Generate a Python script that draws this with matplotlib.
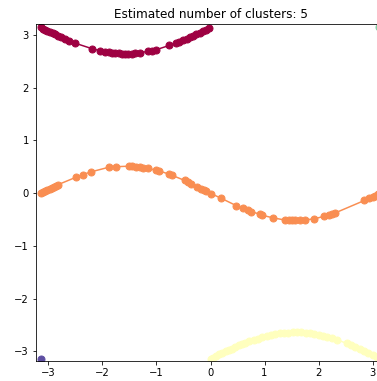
import matplotlib
matplotlib.use("Agg")
import matplotlib.pyplot as plt
import numpy as np

# cluster 0: top arc (dark red)
red_x = [-3.14, -3.10, -3.06, -3.02, -2.97, -2.92, -2.87, -2.82, -2.76, -2.70, -2.62, -2.50,
         -2.20, -2.05, -1.95, -1.88, -1.82, -1.76, -1.70, -1.64, -1.58, -1.52, -1.46, -1.40,
         -1.30, -1.15, -1.08, -1.00, -0.76, -0.64, -0.58, -0.50, -0.44, -0.38, -0.32, -0.26,
         -0.20, -0.14, -0.08, -0.02]
red_y = [3.14, 3.12, 3.10, 3.08, 3.06, 3.03, 3.01, 2.98, 2.96, 2.93, 2.89, 2.84,
         2.74, 2.70, 2.68, 2.67, 2.66, 2.65, 2.65, 2.64, 2.64, 2.64, 2.64, 2.65,
         2.66, 2.69, 2.70, 2.72, 2.80, 2.84, 2.87, 2.90, 2.93, 2.96, 2.98, 3.01,
         3.04, 3.07, 3.10, 3.13]

# cluster 1: middle wave (orange)
orange_x = [-3.14, -3.10, -3.06, -3.02, -2.98, -2.94, -2.90, -2.86, -2.82, -2.49, -2.36, -2.22,
            -1.88, -1.75, -1.50, -1.45, -1.38, -1.30, -1.25, -1.16, -1.00, -0.95, -0.77, -0.72,
            -0.48, -0.42, -0.36, -0.25, -0.17, -0.12, -0.08, 0.01, 0.20, 0.48, 0.60, 0.69,
            0.75, 0.91, 0.95, 1.16, 1.37, 1.46, 1.50, 1.56, 1.65, 1.74, 1.91, 2.11,
            2.20, 2.25, 2.30, 2.85, 2.94, 3.00, 3.04, 3.10, 3.14]
orange_y = [0.00, 0.02, 0.04, 0.06, 0.08, 0.10, 0.12, 0.14, 0.16, 0.30, 0.35, 0.40,
            0.49, 0.50, 0.51, 0.51, 0.50, 0.49, 0.48, 0.47, 0.43, 0.42, 0.36, 0.34,
            0.24, 0.21, 0.18, 0.12, 0.08, 0.06, 0.04, -0.01, -0.10, -0.24, -0.29, -0.33,
            -0.35, -0.40, -0.42, -0.47, -0.51, -0.52, -0.52, -0.52, -0.52, -0.51, -0.49, -0.44,
            -0.41, -0.40, -0.38, -0.14, -0.10, -0.07, -0.05, -0.02, 0.00]

# cluster 2: bottom arc (pale yellow)
yellow_x = [0.00, 0.05, 0.10, 0.16, 0.22, 0.28, 0.34, 0.40, 0.46, 0.52, 0.58, 0.64,
            0.72, 0.80, 0.88, 0.96, 1.04, 1.12, 1.20, 1.28, 1.36, 1.44, 1.52, 1.60,
            1.68, 1.76, 1.84, 1.92, 2.00, 2.08, 2.16, 2.24, 2.34, 2.52, 2.60, 2.68,
            2.76, 2.84, 2.92, 3.00, 3.08]
yellow_y = [-3.14, -3.12, -3.09, -3.06, -3.03, -3.00, -2.97, -2.95, -2.92, -2.89, -2.87, -2.84,
            -2.81, -2.78, -2.76, -2.73, -2.71, -2.69, -2.68, -2.66, -2.65, -2.65, -2.64, -2.64,
            -2.64, -2.65, -2.66, -2.67, -2.69, -2.71, -2.73, -2.75, -2.78, -2.85, -2.88, -2.92,
            -2.96, -2.99, -3.03, -3.07, -3.11]

# clusters 3 and 4: single corner points
teal_x = [3.12]
teal_y = [3.14]
purple_x = [-3.14]
purple_y = [-3.14]

clusters = [(red_x, red_y), (orange_x, orange_y), (yellow_x, yellow_y),
            (teal_x, teal_y), (purple_x, purple_y)]
n_clusters = len(clusters)
colors = plt.cm.Spectral(np.linspace(0, 1, n_clusters))

fig = plt.figure(figsize=(377 / 72, 381 / 72), dpi=72)
ax = fig.add_axes([36 / 377, 19.7 / 381, 349 / 377, 337 / 381])

for (xs, ys), col in zip(clusters, colors):
    ax.plot(xs, ys, "o-", color=col, markersize=7, linewidth=1.5)

ax.set_xlim(-3.23, 3.23)
ax.set_ylim(-3.19, 3.2)
ax.set_xticks([-3, -2, -1, 0, 1, 2, 3])
ax.set_yticks([-3, -2, -1, 0, 1, 2, 3])
ax.tick_params(labelsize=10)
ax.set_title("Estimated number of clusters: %d" % n_clusters, fontsize=12)

fig.savefig("out.png", dpi=72)
